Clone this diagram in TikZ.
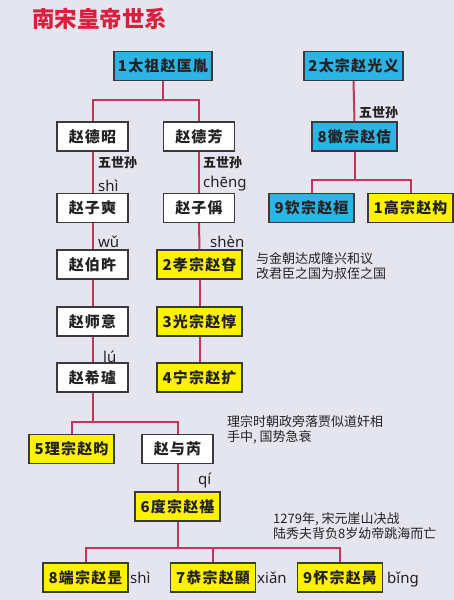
\documentclass[tikz,border=0pt]{standalone}
\usepackage{fontspec}
\setmainfont{Noto Sans}
\newfontfamily\cjk{Noto Sans CJK SC}
\newfontfamily\cjksp[LetterSpace=8]{Noto Sans CJK SC}
\newfontfamily\pyf{Noto Sans}
\definecolor{bgC}{HTML}{E5E5F0}
\definecolor{blueC}{HTML}{2DB4E6}
\definecolor{yellowC}{HTML}{FFF200}
\definecolor{lineC}{HTML}{C7345A}
\definecolor{titleC}{HTML}{DA1E3C}
\definecolor{textC}{HTML}{222222}
\definecolor{borderC}{HTML}{3A3A3A}
\tikzset{
  box/.style={draw=borderC, line width=1.2pt, minimum height=29pt, inner sep=0pt,
    font=\cjksp\bfseries\fontsize{15}{15}\selectfont, text=textC},
  wbox/.style={box, fill=white, minimum width=71pt},
  bbox/.style={box, fill=blueC, minimum width=85pt},
  ybox/.style={box, fill=yellowC, minimum width=85pt},
  link/.style={draw=lineC, line width=2pt},
  lbl/.style={font=\cjk\bfseries\fontsize{13}{13}\selectfont, text=textC, inner sep=0pt, anchor=west},
  pyl/.style={font=\pyf\fontsize{15}{15}\selectfont, text=textC, inner sep=0pt, anchor=base west},
  note/.style={font=\cjk\fontsize{13}{15}\selectfont, text=textC, align=left, inner sep=0pt, anchor=west}
}
\begin{document}
\begin{tikzpicture}[x=1pt,y=-1pt]
\fill[bgC] (0,0) rectangle (454,600);
\useasboundingbox (0,0) rectangle (454,600);
\node[font=\cjk\bfseries\fontsize{22.5}{22.5}\selectfont, text=titleC, inner sep=0pt, anchor=west] (title) at (32,19) {南宋皇帝世系};
% nodes
\node[bbox, minimum width=98pt] (t1) at (163,66) {1太祖赵匡胤};
\node[bbox, minimum width=99pt] (t2) at (353.5,66) {2太宗赵光义};
\node[wbox] (dz) at (92.5,136.5) {赵德昭};
\node[wbox] (df) at (199,136.5) {赵德芳};
\node[bbox] (hz) at (354.5,136.5) {8徽宗赵佶};
\node[wbox] (zs) at (92.5,208) {赵子奭};
\node[wbox] (zc) at (199,208) {赵子偁};
\node[bbox] (qz) at (311.5,208) {9钦宗赵桓};
\node[ybox] (gz) at (410.5,208) {1高宗赵构};
\node[wbox] (bw) at (92.5,264.5) {赵伯旿};
\node[ybox] (xz) at (199.5,264.5) {2孝宗赵昚};
\node[wbox] (sy) at (92.5,321.5) {赵师意};
\node[ybox] (gzz) at (199.5,321.5) {3光宗赵惇};
\node[wbox] (xl) at (92.5,377.5) {赵希瓐};
\node[ybox] (nz) at (199.5,377.5) {4宁宗赵扩};
\node[ybox] (lz) at (71.5,449) {5理宗赵昀};
\node[wbox] (yr) at (177.5,449) {赵与芮};
\node[ybox] (dz6) at (177.5,506.5) {6度宗赵禥};
\node[ybox] (dzz) at (85.5,577.5) {8端宗赵昰};
\node[ybox] (gzong) at (213,577.5) {7恭宗赵顯};
\node[ybox] (hzong) at (340,577.5) {9怀宗赵昺};
% junctions
\coordinate (j1) at (163,100);
\coordinate (j2) at (354.5,180);
\coordinate (j3) at (92.5,422);
\coordinate (j4) at (177.5,548);
% connectors
\draw[link] (t1.south) -- (j1);
\draw[link] (dz.north) |- (j1) -| (df.north);
\draw[link] (t2.south) -- (hz.north);
\draw[link] (hz.south) -- (j2);
\draw[link] (qz.north) |- (j2) -| (gz.north);
\draw[link] (dz.south) -- (zs.north);
\draw[link] (zs.south) -- (bw.north);
\draw[link] (bw.south) -- (sy.north);
\draw[link] (sy.south) -- (xl.north);
\draw[link] (df.south) -- (zc.north);
\draw[link] (zc.south) -- (xz.north);
\draw[link] (xz.south) -- (gzz.north);
\draw[link] (gzz.south) -- (nz.north);
\draw[link] (xl.south) -- (j3);
\draw[link] (lz.north) |- (j3) -| (yr.north);
\draw[link] (yr.south) -- (dz6.north);
\draw[link] (dz6.south) -- (j4);
\draw[link] (dzz.north) |- (j4) -| (hzong.north);
\draw[link] (gzong.north) |- (j4);
% labels
\node[lbl] (l1) at (98,163) {五世孙};
\node[lbl] (l2) at (203,163) {五世孙};
\node[lbl] (l3) at (359,113) {五世孙};
\node[pyl] (p1) at (98,191) {shì};
\node[pyl] (p2) at (203,187) {chēng};
\node[pyl] (p3) at (98,247) {wǔ};
\node[pyl] (p4) at (210,247) {shèn};
\node[pyl] (p5) at (103,362) {lú};
\node[pyl] (p6) at (198,484) {qí};
\node[pyl] (p7) at (130,583) {shì};
\node[pyl] (p8) at (257,583) {xiǎn};
\node[pyl] (p9) at (387,583) {bǐng};
% notes
\node[note] (n1) at (256,266) {与金朝达成隆兴和议\\改君臣之国为叔侄之国};
\node[note] (n2) at (227,430) {理宗时朝政旁落贾似道奸相\\手中, 国势急衰};
\node[note] (n3) at (273,526.5) {1279年, 宋元崖山决战\\陆秀夫背负8岁幼帝跳海而亡};
\end{tikzpicture}
\end{document}
